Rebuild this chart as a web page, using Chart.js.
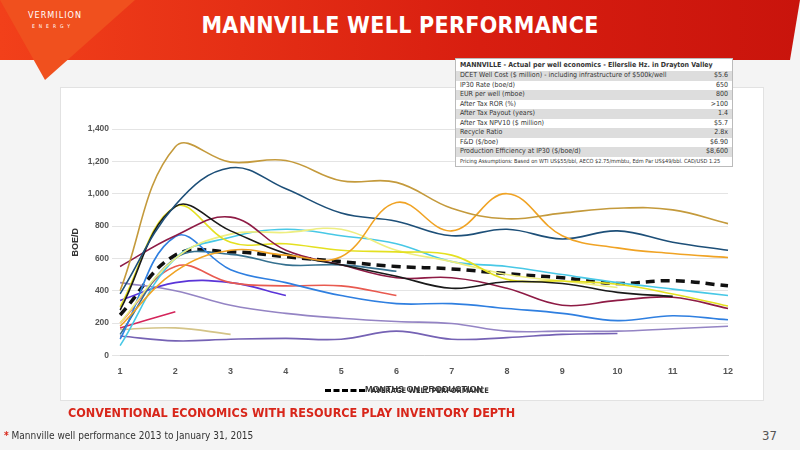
<!DOCTYPE html>
<html><head><meta charset="utf-8">
<script src="https://cdn.jsdelivr.net/npm/chart.js@4"></script>
<style>
body{margin:0;width:800px;height:450px;overflow:hidden;background:#f4f4f4;font-family:"DejaVu Sans Condensed","Liberation Sans Narrow",sans-serif;position:relative}
#hdr{position:absolute;left:0;top:0;width:800px;height:60px;background:linear-gradient(90deg,#f2401a,#d81e10 60%,#c9140c);clip-path:polygon(0 0,800px 0,790px 60px,0 60px)}
#tri{position:absolute;left:0;top:0;width:135px;height:80px;background:#f0501e;clip-path:polygon(0 0,135px 0,45px 80px)}
#logo{position:absolute;left:28px;top:10px;color:#fff;font-size:9px;letter-spacing:1px;text-align:center;width:50px}
#title{position:absolute;left:0;width:800px;top:12px;text-align:center;color:#fff;font-weight:bold;font-size:23px;letter-spacing:0.3px}
#panel{position:absolute;left:60px;top:87px;width:702px;height:312px;background:#fff;border:1px solid #e2e2e2}
#tbl{position:absolute;left:455px;top:58px;width:276px;background:#fff;border:1px solid #bbb;font-size:7px;color:#333}
#tbl div{display:flex;justify-content:space-between;padding:0 4px;height:9.5px;line-height:9.5px;white-space:nowrap}
#tbl div:nth-child(even){background:#ddd}
#tbl .h{font-weight:bold;height:12px;line-height:12px}
#tbl .p{font-size:5.6px}
#cv{position:absolute;left:60px;top:95px;width:700px;height:304px}
#leg{position:absolute;left:325px;top:386px;font-size:7.5px;font-weight:bold;color:#333;display:flex;align-items:center}
#leg span{display:inline-block;width:40px;border-top:3px dashed #000;margin-right:6px}
#tag{position:absolute;left:68px;top:405px;color:#d8261a;font-weight:bold;font-size:12.5px}
#foot{position:absolute;left:4px;top:430px;font-size:10px;color:#333}
#foot b{color:#d8261a}
#pg{position:absolute;left:762px;top:428px;font-size:13px;color:#555}
</style></head><body>
<div id="hdr"></div><div id="tri"></div>
<div id="logo">VERMILION<br><span style="font-size:5px;letter-spacing:4px">ENERGY</span></div>
<div id="title">MANNVILLE WELL PERFORMANCE</div>
<div id="panel"></div>
<canvas id="cv" width="700" height="304"></canvas>
<div id="tbl">
<div class="h"><span>MANNVILLE - Actual per well economics - Ellerslie Hz. in Drayton Valley</span></div>
<div><span>DCET Well Cost ($ million) - including infrastructure of $500k/well</span><span>$5.6</span></div>
<div><span>IP30 Rate (boe/d)</span><span>650</span></div>
<div><span>EUR per well (mboe)</span><span>800</span></div>
<div><span>After Tax ROR (%)</span><span>&gt;100</span></div>
<div><span>After Tax Payout (years)</span><span>1.4</span></div>
<div><span>After Tax NPV10 ($ million)</span><span>$5.7</span></div>
<div><span>Recycle Ratio</span><span>2.8x</span></div>
<div><span>F&amp;D ($/boe)</span><span>$6.90</span></div>
<div><span>Production Efficiency at IP30 ($/boe/d)</span><span>$8,600</span></div>
<div class="p"><span>Pricing Assumptions: Based on WTI US$55/bbl, AECO $2.75/mmbtu, Edm Par US$49/bbl. CAD/USD 1.25</span></div>
</div>
<div id="leg"><span></span>AVERAGE WELL PERFORMANCE</div>
<div id="tag">CONVENTIONAL ECONOMICS WITH RESOURCE PLAY INVENTORY DEPTH</div>
<div id="foot"><b>*</b> Mannville well performance 2013 to January 31, 2015</div>
<div id="pg">37</div>
<script>
const months = ['1','2','3','4','5','6','7','8','9','10','11','12'];
const wellGold = [400,1290,1195,1205,1080,1070,910,845,880,910,900,815];
const wellOrange = [180,520,650,620,610,945,770,1000,740,665,630,605];
const wellNavy = [380,930,1160,1030,880,830,740,780,720,770,700,650];
const wellBlack = [280,920,770,630,560,490,415,455,445,390,365,null];
const wellMaroon = [550,740,855,650,560,480,480,415,310,340,360,290];
const wellYellow = [300,920,700,690,650,640,620,470,460,440,380,305];
const wellLtYellow = [200,600,750,760,780,650,580,500,460,420,null,null];
const wellCyan = [60,600,730,780,740,690,580,550,500,450,410,370];
const wellBlue = [100,735,530,450,370,320,320,290,260,215,245,220];
const wellTeal = [130,600,625,560,560,520,null,null,null,null,null,null];
const wellRed = [200,550,450,430,430,370,null,null,null,null,null,null];
const wellViolet = [340,450,450,370,null,null,null,null,null,null,null,null];
const wellLavender = [450,400,310,260,230,210,197,150,150,150,165,180];
const wellPurple = [120,90,100,105,100,150,100,110,130,135,null,null];
const wellCrimson = [170,270,null,null,null,null,null,null,null,null,null,null];
const wellTan = [160,170,130,null,null,null,null,null,null,null,null,null];
const avgWell = [250,620,640,610,580,550,535,505,480,445,462,430];
const yTicks = [0,200,400,600,800,1000,1200,1400];

const ln = (data, color) => ({data, borderColor: color, borderWidth: 1.6, pointRadius: 0, tension: 0.4, fill: false, spanGaps: false});
const sets = [
  ln(wellGold,'#c49a3c'), ln(wellOrange,'#f0a324'), ln(wellNavy,'#1d4f78'), ln(wellBlack,'#1a1a1a'),
  ln(wellMaroon,'#8e1b45'), ln(wellYellow,'#e4e020'), ln(wellLtYellow,'#eeee80'), ln(wellCyan,'#48c8e6'),
  ln(wellBlue,'#2f7fe0'), ln(wellTeal,'#35708f'), ln(wellRed,'#e85a50'), ln(wellViolet,'#5a34d8'),
  ln(wellLavender,'#9484c4'), ln(wellPurple,'#7562b4'), ln(wellCrimson,'#d4245a'), ln(wellTan,'#d4c488')
];
sets.push({data: avgWell, borderColor:'#111', borderWidth:3.5, borderDash:[9,6], pointRadius:0, tension:0.4, fill:false});

new Chart(document.getElementById('cv'), {
  type: 'line',
  data: {labels: months, datasets: sets},
  options: {
    responsive: false, animation: false,
    layout: {padding: {top: 34, right: 32, left: 6}},
    plugins: {legend: {display: false}, tooltip: {enabled: false}},
    scales: {
      x: {offset: false, grid: {display: false}, border: {color: '#ccc'},
          ticks: {color: '#555', font: {size: 9, weight: 'bold'}},
          title: {display: true, text: 'MONTHS ON PRODUCTION', color: '#333', font: {size: 9, weight: 'bold'}, padding: {top: 4}}},
      y: {min: 0, max: 1400, afterBuildTicks: a => { a.ticks = yTicks.map(v => ({value: v})); },
          grid: {color: '#e4e4e4'}, border: {display: false},
          ticks: {color: '#555', font: {size: 8.5, weight: 'bold'}, callback: v => v.toLocaleString('en-US')},
          title: {display: true, text: 'BOE/D', color: '#333', font: {size: 9, weight: 'bold'}}}
    }
  }
});
</script>
</body></html>
